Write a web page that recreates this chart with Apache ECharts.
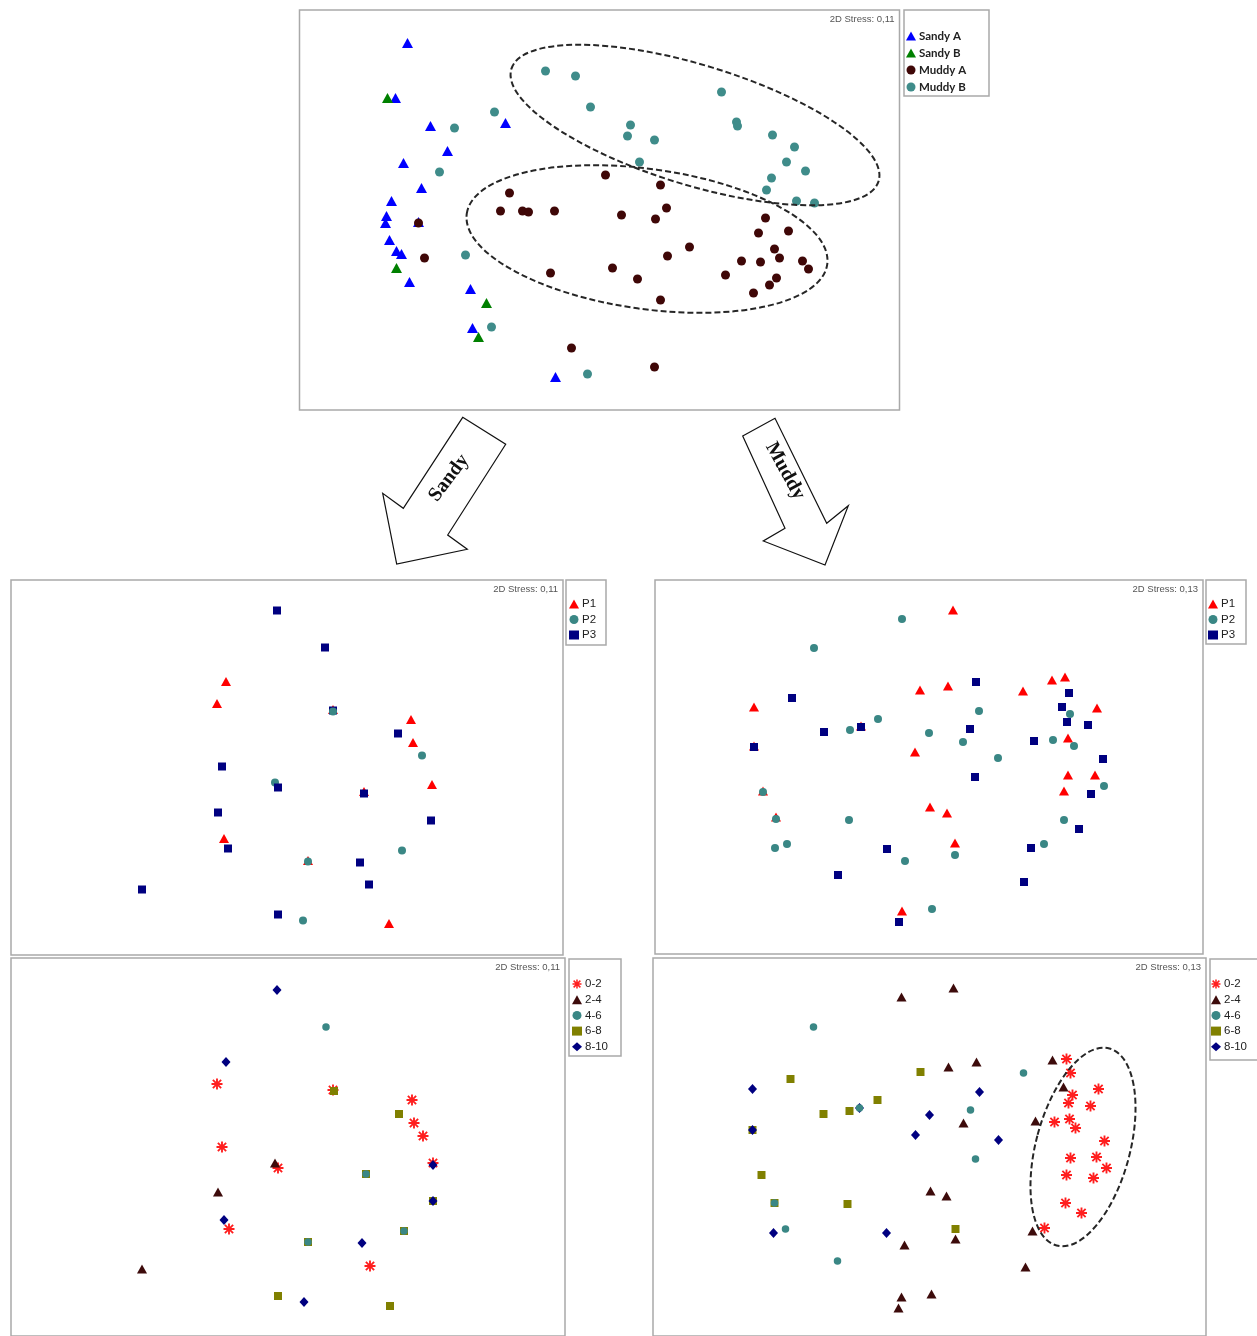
<!DOCTYPE html>
<html>
<head>
<meta charset="utf-8">
<title>nMDS ordinations – sediment type, period and depth</title>
<script src="https://cdn.jsdelivr.net/npm/echarts@6/dist/echarts.min.js"></script>
<style>
  html, body { margin: 0; padding: 0; background: #fff; }
  #chart { width: 1257px; height: 1336px; }
</style>
</head>
<body>
<div id="chart"></div>
<script>
// ---------- nMDS coordinates (dimension 1, dimension 2) ----------

// All samples, by sediment type and site
const allSandyA = [[-1.92,1.67],[-2.04,1.12],[-1.69,0.84],[-0.94,0.87],[-1.52,0.59],[-1.96,0.47],[-1.78,0.22],[-2.08,0.09],[-2.13,-0.06],[-2.14,-0.13],[-2.10,-0.30],[-2.03,-0.41],[-1.98,-0.44],[-1.90,-0.72],[-1.29,-0.79],[-1.27,-1.18],[-0.44,-1.67],[-1.81,-0.12]];
const allSandyB = [[-2.12,1.12],[-2.03,-0.58],[-1.13,-0.93],[-1.21,-1.27]];
const allMuddyA = [[-1.81,-0.13],[-1.75,-0.48],[-0.90,0.17],[-0.99,-0.01],[-0.77,-0.01],[-0.71,-0.02],[-0.45,-0.01],[0.06,0.35],[-0.49,-0.63],[-0.28,-1.38],[0.61,0.25],[0.67,0.02],[0.22,-0.05],[0.56,-0.09],[0.90,-0.37],[0.68,-0.46],[0.13,-0.58],[0.38,-0.69],[0.61,-0.90],[1.66,-0.08],[1.89,-0.21],[1.59,-0.23],[1.75,-0.39],[1.80,-0.48],[1.42,-0.51],[1.61,-0.52],[2.03,-0.51],[2.09,-0.59],[1.26,-0.65],[1.77,-0.68],[1.70,-0.75],[1.54,-0.83],[0.55,-1.57]];
const allMuddyB = [[-0.54,1.39],[-0.24,1.34],[-0.09,1.03],[-1.05,0.98],[-1.45,0.82],[-1.60,0.38],[-1.34,-0.45],[-1.08,-1.17],[-0.12,-1.64],[0.31,0.85],[0.28,0.74],[0.55,0.70],[0.40,0.48],[1.22,1.18],[1.37,0.88],[1.38,0.84],[1.73,0.75],[1.95,0.63],[1.87,0.48],[2.06,0.39],[1.72,0.32],[1.67,0.20],[1.97,0.09],[2.15,0.07]];

// Sandy samples, by sampling period
const sandyP1 = [[-0.61,0.86],[-0.70,0.64],[1.24,0.48],[1.26,0.25],[1.45,-0.17],[-0.63,-0.71],[0.21,-0.93],[1.02,-1.56],[0.77,-0.24],[0.46,0.58]];
const sandyP2 = [[1.35,0.12],[-0.12,-0.15],[1.15,-0.83],[0.16,-1.53],[0.21,-0.94]];
const sandyP3 = [[-0.10,1.57],[0.38,1.20],[1.11,0.34],[-0.65,0.01],[-0.09,-0.20],[0.77,-0.26],[-0.69,-0.45],[1.44,-0.53],[-0.59,-0.81],[0.73,-0.95],[0.82,-1.17],[-1.45,-1.22],[-0.09,-1.47],[0.46,0.57]];
const sandyP2Over = [[0.46,0.56]];

// Sandy samples, by depth layer (cm)
const sandyD02 = [[-0.71,0.63],[1.24,0.47],[1.26,0.24],[1.35,0.11],[-0.66,0.00],[-0.10,-0.21],[-0.59,-0.82],[0.82,-1.19],[0.45,0.57],[1.45,-0.16]];
const sandyD24 = [[-0.13,-0.16],[-0.70,-0.45],[-1.46,-1.22]];
const sandyD68 = [[0.46,0.56],[1.11,0.33],[-0.10,-1.49],[1.02,-1.59],[0.20,-0.95],[1.16,-0.84],[0.78,-0.27],[1.45,-0.54]];
const sandyD46 = [[0.38,1.20],[0.78,-0.27],[0.20,-0.95],[1.16,-0.84]];
const sandyD810 = [[-0.11,1.57],[-0.62,0.85],[1.45,-0.18],[1.45,-0.54],[-0.64,-0.73],[0.74,-0.96],[0.16,-1.55]];

// Muddy samples, by sampling period
const muddyP1 = [[0.24,1.57],[-0.09,0.77],[0.19,0.81],[0.94,0.76],[1.23,0.87],[1.36,0.90],[1.68,0.59],[-1.75,0.60],[-0.68,0.41],[-1.75,0.21],[-0.14,0.15],[1.39,0.29],[1.39,-0.08],[1.66,-0.08],[1.35,-0.24],[-1.66,-0.24],[-1.53,-0.50],[0.01,-0.40],[0.18,-0.46],[0.26,-0.76],[-0.27,-1.44]];
const muddyP2 = [[-0.27,1.48],[-1.15,1.19],[-0.51,0.48],[-0.79,0.37],[0.50,0.56],[0.00,0.34],[0.34,0.25],[0.69,0.09],[1.41,0.53],[1.24,0.27],[1.45,0.21],[1.75,-0.19],[-1.66,-0.25],[-1.53,-0.52],[-0.80,-0.53],[-1.54,-0.81],[-1.42,-0.77],[-0.24,-0.94],[0.26,-0.88],[1.35,-0.53],[1.15,-0.77],[0.03,-1.42]];
const muddyP3 = [[-1.37,0.69],[-1.05,0.35],[-0.68,0.40],[-1.75,0.20],[0.47,0.85],[0.41,0.38],[1.05,0.26],[1.40,0.74],[1.33,0.60],[1.38,0.45],[1.59,0.42],[1.74,0.08],[0.46,-0.10],[1.62,-0.27],[1.50,-0.62],[1.02,-0.81],[-0.42,-0.82],[-0.91,-1.08],[0.95,-1.15],[-0.30,-1.55]];

// Muddy samples, by depth layer (cm)
const muddyD02 = [[1.37,0.88],[1.41,0.74],[1.69,0.58],[1.43,0.52],[1.39,0.44],[1.61,0.41],[1.25,0.25],[1.40,0.28],[1.46,0.19],[1.75,0.06],[1.41,-0.11],[1.67,-0.10],[1.77,-0.21],[1.37,-0.28],[1.64,-0.31],[1.36,-0.56],[1.52,-0.66],[1.15,-0.81]];
const muddyD24 = [[-0.28,1.50],[0.24,1.59],[0.19,0.80],[0.47,0.85],[1.23,0.87],[1.34,0.60],[1.06,0.26],[0.34,0.24],[0.01,-0.44],[0.17,-0.49],[1.03,-0.84],[0.26,-0.92],[-0.25,-0.98],[0.96,-1.20],[-0.28,-1.50],[0.02,-1.47],[-0.31,-1.61]];
const muddyD68 = [[-1.39,0.68],[-0.09,0.75],[-0.52,0.47],[-0.80,0.36],[-1.06,0.33],[-1.68,-0.28],[-1.55,-0.56],[-0.82,-0.57],[0.26,-0.82],[-1.77,0.17]];
const muddyD810 = [[-1.77,0.58],[0.50,0.55],[0.00,0.32],[-0.14,0.12],[0.69,0.07],[-1.77,0.17],[-1.56,-0.86],[-0.43,-0.86],[-0.70,0.39]];
const muddyD46 = [[-1.16,1.20],[0.94,0.74],[0.41,0.37],[0.46,-0.12],[-0.70,0.39],[-1.44,-0.82],[-0.92,-1.14],[-1.55,-0.56]];

// Group names and stress values
const siteNames = ['Sandy A', 'Sandy B', 'Muddy A', 'Muddy B'];
const periodNames = ['P1', 'P2', 'P3'];
const depthNames = ['0-2', '2-4', '4-6', '6-8', '8-10'];
const stressLabels = ['2D Stress: 0,11', '2D Stress: 0,11', '2D Stress: 0,11', '2D Stress: 0,13', '2D Stress: 0,13'];

// Dashed group outlines, in nMDS units (centre, semi-axes, tilt in degrees clockwise)
const groupOutlines = [
  { grid: 0, centre: [0.955, 0.85], rx: 1.92, ry: 0.60, tilt: 17 },
  { grid: 0, centre: [0.475, -0.29], rx: 1.82, ry: 0.70, tilt: 8 },
  { grid: 4, centre: [1.535, 0.00], rx: 0.47, ry: 1.02, tilt: 15 }
];

// ---------- styling ----------
const COL = {
  sandyA: '#0000ff', sandyB: '#008000', muddyA: '#3f0707', muddyB: '#3f8c8a',
  p1: '#ff0000', p2: '#3a8785', p3: '#000080',
  d02: '#ff1f1f', d24: '#3d0b0b', d46: '#3a8785', d68: '#808000', d810: '#000080'
};
// eight-spoke asterisk marker
const ASTERISK = 'path://M8.3,0L11.7,0L11.7,20L8.3,20Z M0,8.3L20,8.3L20,11.7L0,11.7Z M3.7,1.3L18.7,16.3L16.3,18.7L1.3,3.7Z M18.7,3.7L3.7,18.7L1.3,16.3L16.3,1.3Z';

// Panel frames: [left, top, width, height] and half-ranges of the axes
const frames = [
  { box: [299.5, 10, 600, 400], hx: 3.0, hy: 2.0 },
  { box: [11, 580, 552, 375], hx: 2.76, hy: 1.875 },
  { box: [11, 958, 554, 378], hx: 2.77, hy: 1.89 },
  { box: [655, 580, 548, 374], hx: 2.74, hy: 1.87 },
  { box: [653, 958, 553, 378], hx: 2.765, hy: 1.89 }
];

const grids = frames.map(f => ({
  left: f.box[0], top: f.box[1], width: f.box[2], height: f.box[3],
  show: true, borderColor: '#a9a9a9', borderWidth: 1.5, backgroundColor: '#fff'
}));
const xAxes = frames.map((f, i) => ({ type: 'value', gridIndex: i, min: -f.hx, max: f.hx, show: false, splitLine: { show: false } }));
const yAxes = frames.map((f, i) => ({ type: 'value', gridIndex: i, min: -f.hy, max: f.hy, show: false, splitLine: { show: false } }));

function pts(name, data, g, symbol, size, color, extra) {
  return Object.assign({
    type: 'scatter', name, data, xAxisIndex: g, yAxisIndex: g,
    symbol, symbolSize: size, itemStyle: { color, opacity: 1 },
    emphasis: { disabled: true }, silent: true, animation: false
  }, extra || {});
}

const series = [
  // all samples
  pts('Sandy A', allSandyA, 0, 'triangle', [11, 10], COL.sandyA),
  pts('Sandy B', allSandyB, 0, 'triangle', [11, 10], COL.sandyB),
  pts('Muddy A', allMuddyA, 0, 'circle', 9, COL.muddyA),
  pts('Muddy B', allMuddyB, 0, 'circle', 9, COL.muddyB),
  // sandy by period
  pts('P1', sandyP1, 1, 'triangle', [10, 9], COL.p1),
  pts('P2', sandyP2, 1, 'circle', 8, COL.p2),
  pts('P3', sandyP3, 1, 'rect', 8, COL.p3),
  pts('P2', sandyP2Over, 1, 'circle', 8, COL.p2),
  // sandy by depth
  pts('0-2', sandyD02, 2, ASTERISK, 11, COL.d02),
  pts('2-4', sandyD24, 2, 'triangle', [10, 9], COL.d24),
  pts('6-8', sandyD68, 2, 'rect', 8, COL.d68),
  pts('4-6', sandyD46, 2, 'circle', 7.5, COL.d46),
  pts('8-10', sandyD810, 2, 'diamond', [9, 10], COL.d810),
  // muddy by period
  pts('P1', muddyP1, 3, 'triangle', [10, 9], COL.p1),
  pts('P2', muddyP2, 3, 'circle', 8, COL.p2),
  pts('P3', muddyP3, 3, 'rect', 8, COL.p3),
  // muddy by depth
  pts('0-2', muddyD02, 4, ASTERISK, 11, COL.d02),
  pts('2-4', muddyD24, 4, 'triangle', [10, 9], COL.d24),
  pts('6-8', muddyD68, 4, 'rect', 8, COL.d68),
  pts('8-10', muddyD810, 4, 'diamond', [9, 10], COL.d810),
  pts('4-6', muddyD46, 4, 'circle', 7.5, COL.d46)
];

function legendAt(names, left, top, font, gap) {
  return {
    data: names, orient: 'vertical', left, top,
    itemWidth: 10, itemHeight: 9, itemGap: gap, padding: 0,
    selectedMode: false, inactiveColor: '#222',
    textStyle: Object.assign({ color: '#222', padding: [0, 0, 0, -2] }, font)
  };
}
const sansFont = { fontFamily: 'Liberation Sans, Arial, sans-serif', fontSize: 11.5, lineHeight: 12 };
const siteFont = { fontFamily: 'Lato, sans-serif', fontSize: 11.5, fontWeight: 'bold', lineHeight: 12 };

const legends = [
  legendAt(siteNames, 906, 30, siteFont, 5),
  legendAt(periodNames, 569, 598, sansFont, 3.5),
  legendAt(depthNames, 572, 978, sansFont, 3.7),
  legendAt(periodNames, 1208, 598, sansFont, 3.5),
  legendAt(depthNames, 1211, 978, sansFont, 3.7)
];

// legend frames (outline boxes beside each panel)
const legendBoxes = [[904, 10, 85, 86], [566, 580, 40, 65], [569, 959, 52, 97], [1206, 580, 40, 64], [1210, 959, 50, 101]];

const decor = [];
legendBoxes.forEach(b => decor.push({
  type: 'rect', shape: { x: b[0], y: b[1], width: b[2], height: b[3] },
  style: { fill: 'none', stroke: '#a9a9a9', lineWidth: 1.5 }, silent: true
}));
frames.forEach((f, i) => decor.push({
  type: 'text', x: f.box[0] + f.box[2] - 5, y: f.box[1] + 9,
  style: { text: stressLabels[i], fill: '#555', font: '9.5px "Liberation Sans", Arial, sans-serif', textAlign: 'right', textVerticalAlign: 'middle' },
  silent: true
}));

// block arrows leading from the combined ordination to each sediment type
const arrowSandy = [[462.7, 417.3], [505.7, 444.3], [447.7, 535], [467.3, 549.3], [396.7, 564], [382.7, 493.3], [403.3, 508.3]];
const arrowMuddy = [[742.7, 436], [775, 418.3], [826.7, 523.3], [848.3, 505.7], [825, 565], [763.3, 541], [785, 528.3]];
[arrowSandy, arrowMuddy].forEach(p => decor.push({
  type: 'polygon', shape: { points: p },
  style: { fill: '#fff', stroke: '#111', lineWidth: 1.2 }, silent: true
}));
decor.push({
  type: 'text', x: 449, y: 478, rotation: 53 * Math.PI / 180,
  style: { text: 'Sandy', fill: '#111', font: 'bold 20px "Liberation Serif", "Times New Roman", serif', textAlign: 'center', textVerticalAlign: 'middle' },
  silent: true
});
decor.push({
  type: 'text', x: 785, y: 471, rotation: -61 * Math.PI / 180,
  style: { text: 'Muddy', fill: '#111', font: 'bold 20px "Liberation Serif", "Times New Roman", serif', textAlign: 'center', textVerticalAlign: 'middle' },
  silent: true
});

const chart = echarts.init(document.getElementById('chart'), null, { renderer: 'canvas' });
chart.setOption({
  backgroundColor: '#fff',
  animation: false,
  grid: grids,
  xAxis: xAxes,
  yAxis: yAxes,
  legend: legends,
  series,
  graphic: { elements: decor }
});

// dashed outlines placed through each panel's own scales
const outlineEls = groupOutlines.map(o => {
  const c = chart.convertToPixel({ gridIndex: o.grid }, o.centre);
  const px = chart.convertToPixel({ gridIndex: o.grid }, [o.centre[0] + o.rx, o.centre[1] + o.ry]);
  return {
    type: 'ellipse', x: c[0], y: c[1], rotation: -o.tilt * Math.PI / 180,
    shape: { cx: 0, cy: 0, rx: Math.abs(px[0] - c[0]), ry: Math.abs(px[1] - c[1]) },
    style: { fill: 'none', stroke: '#262626', lineWidth: 2, lineDash: [6, 3] },
    z: 100, silent: true
  };
});
chart.setOption({ graphic: { elements: decor.concat(outlineEls) } });
</script>
</body>
</html>
